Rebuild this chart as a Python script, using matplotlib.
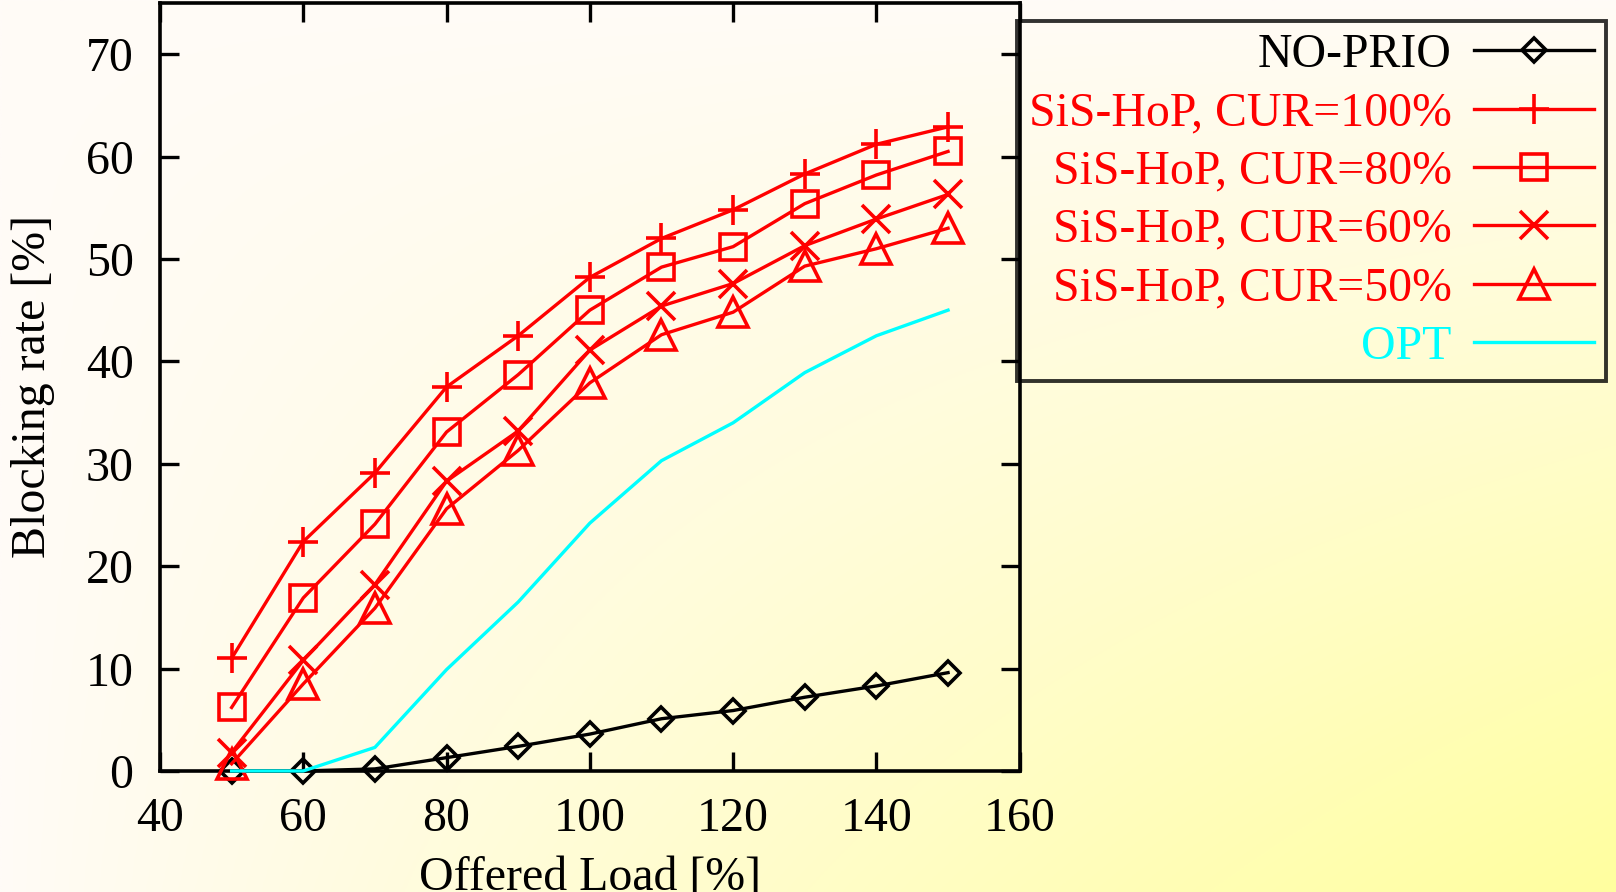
import numpy as np
import matplotlib.pyplot as plt

plt.rcParams['font.family'] = ['Liberation Serif', 'DejaVu Serif']

# Données
load = [50, 60, 70, 80, 90, 100, 110, 120, 130, 140, 150]
no_prio = [0.0, 0.0, 0.2, 1.3, 2.4, 3.6, 5.1, 5.9, 7.2, 8.3, 9.6]
cur100 = [11.0, 22.4, 29.1, 37.5, 42.5, 48.2, 52.0, 54.8, 58.3, 61.2, 62.9]
cur80 = [6.2, 16.9, 24.1, 33.1, 38.7, 45.0, 49.2, 51.2, 55.4, 58.2, 60.5]
cur60 = [1.8, 10.8, 18.2, 28.3, 33.2, 41.1, 45.4, 47.6, 51.3, 53.9, 56.3]
cur50 = [0.7, 8.5, 15.9, 25.6, 31.3, 37.9, 42.6, 44.8, 49.3, 51.0, 53.0]
opt = [0.0, 0.0, 2.3, 9.9, 16.5, 24.2, 30.3, 34.0, 38.9, 42.5, 45.0]

fig = plt.figure(figsize=(16.16, 8.92), dpi=100)

# Fond en dégradé (blanc en haut à gauche, jaune en bas à droite)
gx, gy = np.meshgrid(np.linspace(0, 1, 400), np.linspace(0, 1, 300))
t = gx * gy
bg = np.zeros((300, 400, 3))
bg[..., 0] = 1.0
bg[..., 1] = (251 + 4 * t) / 255
bg[..., 2] = (247 - 88 * t ** 0.9) / 255
bgax = fig.add_axes([0, 0, 1, 1], zorder=-10)
bgax.imshow(bg, aspect='auto', extent=[0, 1, 0, 1], origin='upper')
bgax.axis('off')

ax = fig.add_axes([0.099, 0.1357, 0.532, 0.861])
ax.patch.set_alpha(0)

lw = 2.4
kw = dict(lw=lw, mew=2.6, zorder=3, clip_on=False)
ax.plot(load, no_prio, color='black', marker='D', ms=12, mfc='none', label='NO-PRIO', **kw)
ax.plot(load, cur100, color='red', marker='+', ms=22, label='SiS-HoP, CUR=100%', **kw)
ax.plot(load, cur80, color='red', marker='s', ms=19, mfc='none', label='SiS-HoP, CUR=80%', **kw)
ax.plot(load, cur60, color='red', marker='x', ms=20, label='SiS-HoP, CUR=60%', **kw)
ax.plot(load, cur50, color='red', marker='^', ms=21, mfc='none', label='SiS-HoP, CUR=50%', **kw)
ax.plot(load, opt, color='#00ffff', label='OPT', **kw)

ax.set_xlim(40, 160)
ax.set_ylim(0, 75)
ax.set_xticks(range(40, 161, 20))
ax.set_yticks(range(0, 71, 10))
ax.tick_params(direction='in', length=14, width=2.4, top=True, right=True,
               labelsize=34.5, pad=19)
for s in ax.spines.values():
    s.set_linewidth(2.6)

ax.set_xlabel('Offered Load [%]', fontsize=34.5)
ax.set_ylabel('Blocking rate [%]', fontsize=34.5)
ax.xaxis.set_label_coords(0.5, -0.111)
ax.yaxis.set_label_coords(-0.122, 0.5)

leg = ax.legend(loc='upper left', bbox_to_anchor=(1017 / 1616, 1 - 21 / 892),
                bbox_transform=fig.transFigure, markerfirst=False, alignment='right',
                fontsize=34.4, handlelength=2.5, labelspacing=0.3, borderpad=0.25,
                handletextpad=0.47, fancybox=False, edgecolor='black',
                borderaxespad=0)
leg.get_frame().set_facecolor('none')
leg.get_frame().set_linewidth(2.8)
for txt, c in zip(leg.get_texts(), ['black', 'red', 'red', 'red', 'red', '#00ffff']):
    txt.set_color(c)

fig.savefig('out.png', dpi=100)
